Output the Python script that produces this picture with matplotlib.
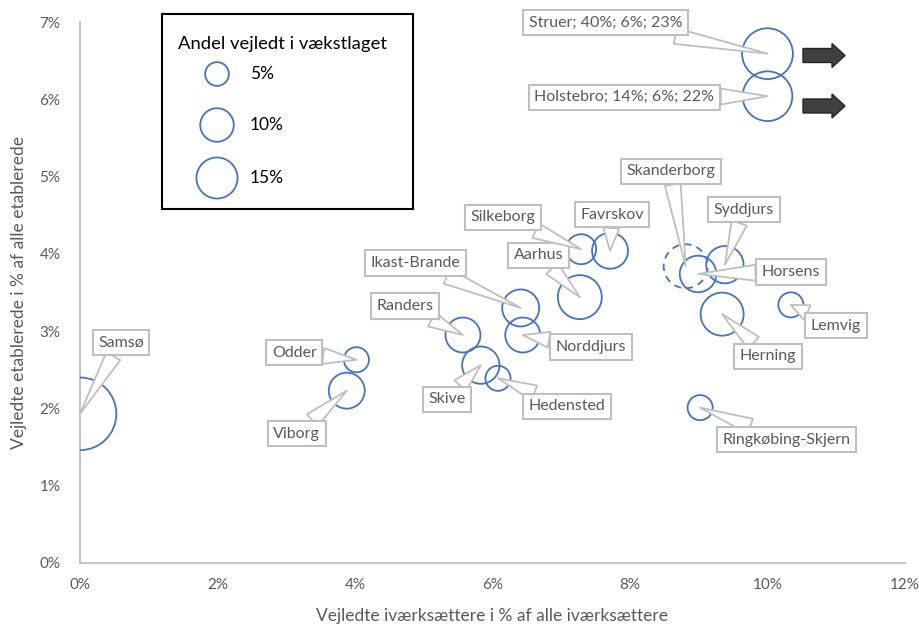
import numpy as np
import matplotlib
matplotlib.use("Agg")
import matplotlib.pyplot as plt
from matplotlib.patches import Rectangle, Circle, Polygon
from matplotlib.ticker import FuncFormatter

plt.rcParams['font.family'] = ['Lato', 'DejaVu Sans']

# ---- data (percent) ----
names = ['Samsø', 'Odder', 'Viborg', 'Randers', 'Skive', 'Hedensted', 'Ikast-Brande',
         'Norddjurs', 'Aarhus', 'Silkeborg', 'Favrskov', 'Skanderborg', 'Horsens',
         'Syddjurs', 'Herning', 'Lemvig', 'Ringkøbing-Skjern', 'Struer', 'Holstebro']
x_pct = [0.0, 4.02, 3.88, 5.57, 5.83, 6.08, 6.41,
         6.44, 7.27, 7.29, 7.71, 8.81, 8.99,
         9.38, 9.34, 10.34, 9.02, 10.0, 10.0]
y_pct = [1.93, 2.63, 2.23, 2.95, 2.56, 2.39, 3.30,
         2.95, 3.44, 4.06, 4.04, 3.84, 3.74,
         3.86, 3.22, 3.34, 2.01, 6.59, 6.04]
size_pct = [47, 5.6, 11.5, 10.9, 12.4, 5.6, 12.2,
            10.9, 17.2, 8.0, 11.5, 17.2, 11.9,
            12.4, 16.5, 5.6, 5.6, 23, 22]
label_text = {'Struer': 'Struer; 40%; 6%; 23%',
              'Holstebro': 'Holstebro; 14%; 6%; 22%'}
dashed = ['Skanderborg']
legend_sizes = [5, 10, 15]

# ---- layout (pixels) ----
DPI = 100
W, H = 919, 627
R_PER_SQRT = 5.3   # bubble radius in px per sqrt(percent)
label_offset = {   # callout box centre relative to point, px (x right, y down)
    'Samsø': (41, -71), 'Odder': (-62, -7), 'Viborg': (-50, 43),
    'Randers': (-58, -29), 'Ikast-Brande': (-105, -45), 'Silkeborg': (-78, -32),
    'Favrskov': (2, -36), 'Aarhus': (-41, -42), 'Norddjurs': (68, 12),
    'Skive': (-34, 34), 'Hedensted': (69, 28), 'Skanderborg': (-15, -95),
    'Syddjurs': (19, -55), 'Horsens': (93, -2), 'Lemvig': (45, 21),
    'Herning': (46, 42), 'Ringkøbing-Skjern': (86, 32),
    'Struer': (-162, -31), 'Holstebro': (-143, 1),
}
blue = '#4472C4'
grey_txt = '#595959'
grey_line = '#BFBFBF'

fig = plt.figure(figsize=(W / DPI, H / DPI), dpi=DPI)
ax = fig.add_axes([80 / W, (H - 563) / H, 825 / W, 541 / H])

for n, x, y, s in zip(names, x_pct, y_pct, size_pct):
    r_px = R_PER_SQRT * np.sqrt(s)
    ms = (2 * r_px * 72 / DPI) ** 2
    ls = (0, (4, 3)) if n in dashed else 'solid'
    ax.scatter([x], [y], s=ms, facecolors='none', edgecolors=blue,
               linewidths=1.3, linestyles=ls, zorder=3)

for n, x, y in zip(names, x_pct, y_pct):
    dx, dy = label_offset[n]
    ax.annotate(label_text.get(n, n), xy=(x, y), xytext=(dx, -dy),
                textcoords='offset pixels', ha='center', va='center',
                fontsize=11.5, color=grey_txt, zorder=5, annotation_clip=False,
                bbox=dict(boxstyle='square,pad=0.35', fc='white', ec=grey_line, lw=1.5),
                arrowprops=dict(arrowstyle='wedge,tail_width=1.0,shrink_factor=0.5',
                                fc='white', ec=grey_line, lw=1.3,
                                shrinkA=0, shrinkB=0))

ax.set_xlim(0, 12)
ax.set_ylim(0, 7)
ax.set_xticks(range(0, 13, 2))
ax.set_yticks(range(0, 8))
fmt = FuncFormatter(lambda v, p: f'{v:.0f}%')
ax.xaxis.set_major_formatter(fmt)
ax.yaxis.set_major_formatter(fmt)
ax.tick_params(length=0, labelsize=11, labelcolor=grey_txt)
ax.tick_params(axis='x', pad=11)
ax.tick_params(axis='y', pad=14)
for sp in ['top', 'right']:
    ax.spines[sp].set_visible(False)
for sp in ['left', 'bottom']:
    ax.spines[sp].set_color(grey_line)
    ax.spines[sp].set_linewidth(1.3)
ax.set_xlabel('Vejledte iværksættere i % af alle iværksættere', fontsize=12.5,
              color=grey_txt, labelpad=11)
ax.set_ylabel('Vejledte etablerede i % af alle etablerede', fontsize=12.5,
              color=grey_txt, labelpad=9)

# ---- legend box (drawn in inches) ----
inch = fig.dpi_scale_trans
def px(xp, yp):
    return xp / DPI, (H - yp) / DPI

fig.patches.append(Rectangle(px(162, 209), 251 / DPI, 195 / DPI, transform=inch,
                             fill=True, fc='white', ec='black', lw=1.5, zorder=10))
tx, ty = px(178, 44)
fig.text(tx, ty, 'Andel vejledt i vækstlaget', transform=inch, fontsize=13.3,
         color='black', ha='left', va='center', zorder=11)
for v, yc in zip(legend_sizes, [74, 125, 178]):
    cx, cy = px(217, yc)
    fig.patches.append(Circle((cx, cy), R_PER_SQRT * np.sqrt(v) / DPI, transform=inch,
                              fill=False, ec=blue, lw=1.3, zorder=11))
    lx, ly = px(250, yc)
    fig.text(lx, ly, f'{v}%', transform=inch, fontsize=12.5, color='black',
             ha='left', va='center', zorder=11)

# ---- arrows showing Struer / Holstebro are off the scale ----
for yc in [55.5, 106]:
    pts = [(803, yc - 7), (832, yc - 7), (832, yc - 12), (845, yc),
           (832, yc + 12), (832, yc + 7), (803, yc + 7)]
    fig.patches.append(Polygon([px(a, b) for a, b in pts], closed=True,
                               transform=inch, fc='#404040', ec='#262626',
                               lw=1, zorder=10))

fig.savefig('out.png', dpi=DPI, facecolor='white')
